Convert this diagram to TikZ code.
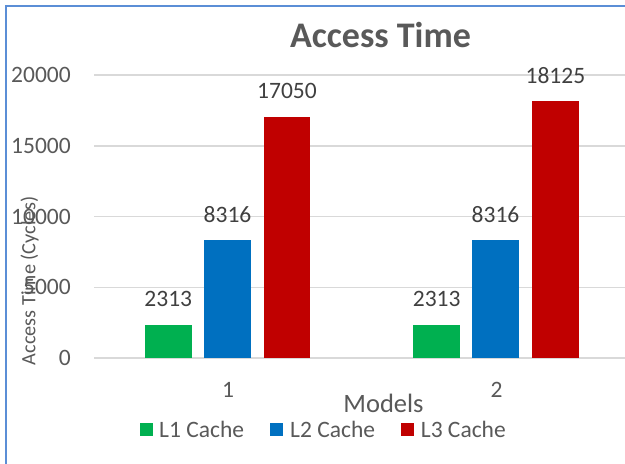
\documentclass[tikz,border=0pt]{standalone}
\usepackage{fontspec}
\setmainfont{Carlito}
\definecolor{frameblue}{RGB}{91,142,214}
\definecolor{gridgray}{RGB}{217,217,217}
\definecolor{txtgray}{RGB}{89,89,89}
\definecolor{lblgray}{RGB}{64,64,64}
\definecolor{cgreen}{RGB}{0,176,80}
\definecolor{cblue}{RGB}{0,112,192}
\definecolor{cred}{RGB}{192,0,0}
\tikzset{
  bar/.style={draw=none, inner sep=0pt, minimum width=46.5pt, anchor=south},
  ticklbl/.style={font=\fontsize{23.5}{26}\selectfont, text=txtgray, anchor=east, inner sep=0pt},
  vallbl/.style={font=\fontsize{23.5}{26}\selectfont, text=lblgray, inner sep=0pt},
  catlbl/.style={font=\fontsize{23.5}{26}\selectfont, text=txtgray, inner sep=0pt},
  legbox/.style={minimum size=13pt, inner sep=0pt},
  legtxt/.style={font=\fontsize{23.5}{26}\selectfont, text=txtgray, anchor=west, inner sep=0pt},
}
\begin{document}
\begin{tikzpicture}[x=1pt,y=-1pt]
\useasboundingbox (0,0) rectangle (625,464);
\fill[white] (0,0) rectangle (625,464);
% frame of the chart area
\draw[frameblue, line width=2pt] (6,464) -- (6,6) -- (625,6);
% horizontal grid lines and value axis labels (5000 cycles = 70.75pt)
\foreach \k/\lbl in {0/0,1/5000,2/10000,3/15000,4/20000}{
  \draw[gridgray, line width=1.5pt] (94,{358-\k*70.75}) -- (625,{358-\k*70.75});
  \node[ticklbl] (t\k) at (71,{358-\k*70.75}) {\lbl};
}
% title
\node[font=\fontsize{36}{40}\selectfont\bfseries, text=txtgray, inner sep=0pt] (title) at (380.5,35) {Access Time};
% bars, model 1
\node[bar, fill=cgreen, minimum height=32.73pt] (g1) at (168.3,358) {};
\node[bar, fill=cblue,  minimum height=117.67pt] (b1) at (227.5,358) {};
\node[bar, fill=cred,   minimum height=241.26pt] (r1) at (287,358) {};
% bars, model 2
\node[bar, fill=cgreen, minimum height=32.73pt] (g2) at (436.7,358) {};
\node[bar, fill=cblue,  minimum height=117.67pt] (b2) at (495.5,358) {};
\node[bar, fill=cred,   minimum height=256.47pt] (r2) at (555.4,358) {};
% value labels above the bars
\node[vallbl] (lg1) at ([yshift=25.5pt]g1.north) {2313};
\node[vallbl] (lb1) at ([yshift=25.5pt]b1.north) {8316};
\node[vallbl] (lr1) at ([yshift=25.5pt]r1.north) {17050};
\node[vallbl] (lg2) at ([yshift=25.5pt]g2.north) {2313};
\node[vallbl] (lb2) at ([yshift=25.5pt]b2.north) {8316};
\node[vallbl] (lr2) at ([yshift=25.5pt]r2.north) {18125};
% category labels
\node[catlbl] (c1) at (228,390) {1};
\node[catlbl] (c2) at (496.5,390) {2};
% axis titles
\node[font=\fontsize{20.3}{24}\selectfont, text=txtgray, rotate=90, inner sep=0pt] (ytitle) at (29.5,281) {Access Time (Cycles)};
\node[font=\fontsize{26.5}{30}\selectfont, text=txtgray, inner sep=0pt] (xtitle) at (383.5,403) {Models};
% legend
\node[legbox, fill=cgreen] (k1) at (146.5,429) {};
\node[legtxt] (k1t) at (159,429) {L1 Cache};
\node[legbox, fill=cblue] (k2) at (276,429) {};
\node[legtxt] (k2t) at (290,429) {L2 Cache};
\node[legbox, fill=cred] (k3) at (407,429) {};
\node[legtxt] (k3t) at (420.7,429) {L3 Cache};
\end{tikzpicture}
\end{document}
